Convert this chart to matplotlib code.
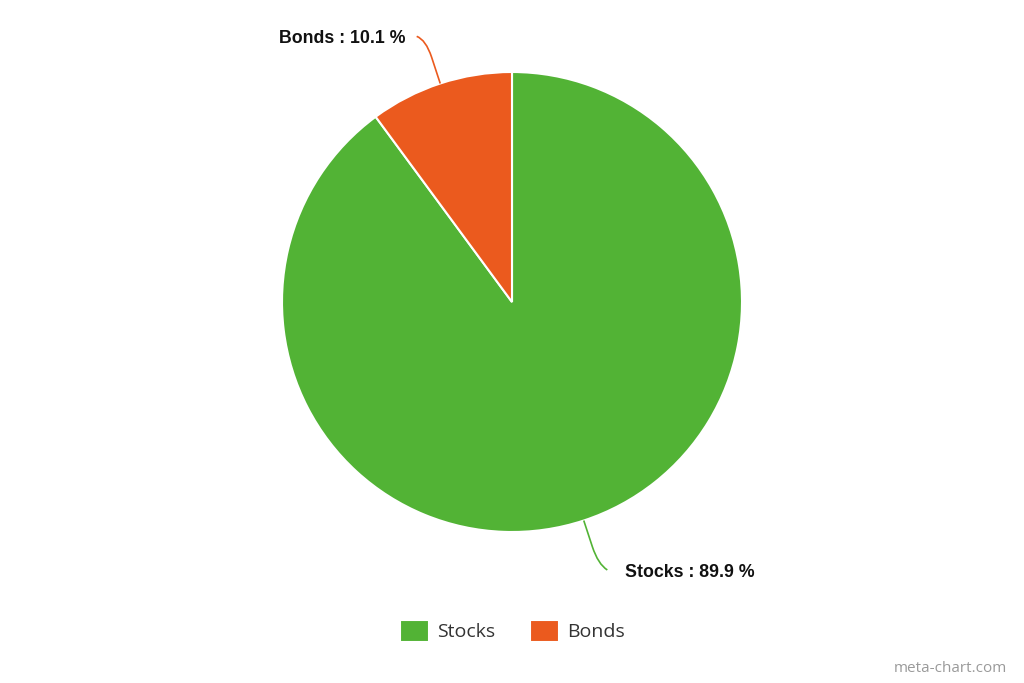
import numpy as np
import matplotlib.pyplot as plt
from matplotlib.path import Path
from matplotlib.patches import PathPatch

# data
categories = ['Stocks', 'Bonds']
shares = [89.9, 10.1]
colors = ['#52b335', '#eb5a1e']

fig = plt.figure(figsize=(10.24, 6.83), dpi=100)
# pie centre at (512, 302) px, radius 230 px
ax = fig.add_axes([(512 - 230) / 1024, (683 - 302 - 230) / 683, 460 / 1024, 460 / 683])

wedges, _ = ax.pie(shares, colors=colors, startangle=90, counterclock=False,
                   radius=1.0, wedgeprops=dict(edgecolor='white', linewidth=1.5))
# pie() resets the limits, so set them afterwards
ax.set_xlim(-1, 1)
ax.set_ylim(-1, 1)
ax.set_aspect('equal')
ax.axis('off')

# labels with curved connectors
for w, name, val, col in zip(wedges, categories, shares, colors):
    mid = np.deg2rad((w.theta1 + w.theta2) / 2)
    ux, uy = np.cos(mid), np.sin(mid)
    side = 1 if ux > 0 else -1
    p0 = (ux * 1.0, uy * 1.0)
    p1 = (ux * 1.12, uy * 1.12)
    p2 = (ux * 1.2, uy * 1.2)
    p3 = (ux * 1.2 + side * 0.04, uy * 1.2 + (0.015 if uy > 0 else -0.025))
    path = Path([p0, p1, p2, p3], [Path.MOVETO, Path.LINETO, Path.CURVE3, Path.CURVE3])
    ax.add_patch(PathPatch(path, facecolor='none', edgecolor=col, lw=1.2, clip_on=False))
    gap = 0.078 if side > 0 else 0.05
    ax.text(p3[0] + side * gap, p3[1] - (0.008 if uy > 0 else 0.012),
            f'{name} : {val} %', ha='left' if side > 0 else 'right', va='center',
            fontsize=12.8, fontweight='bold', family='Liberation Sans',
            color='#111111', clip_on=False)

fig.legend(wedges, categories, loc='center', bbox_to_anchor=(0.5, 1 - 631 / 683),
           ncol=2, frameon=False, prop={'family': 'Open Sans', 'size': 14},
           handlelength=1.5, handleheight=1.4, handletextpad=0.4,
           columnspacing=1.8, labelcolor='#333333')

fig.text(1007 / 1024, 1 - 668 / 683, 'meta-chart.com', ha='right', va='center',
         fontsize=11, color='#9a9a9a', family='Open Sans')

fig.savefig('out.png', dpi=100, facecolor='white')
